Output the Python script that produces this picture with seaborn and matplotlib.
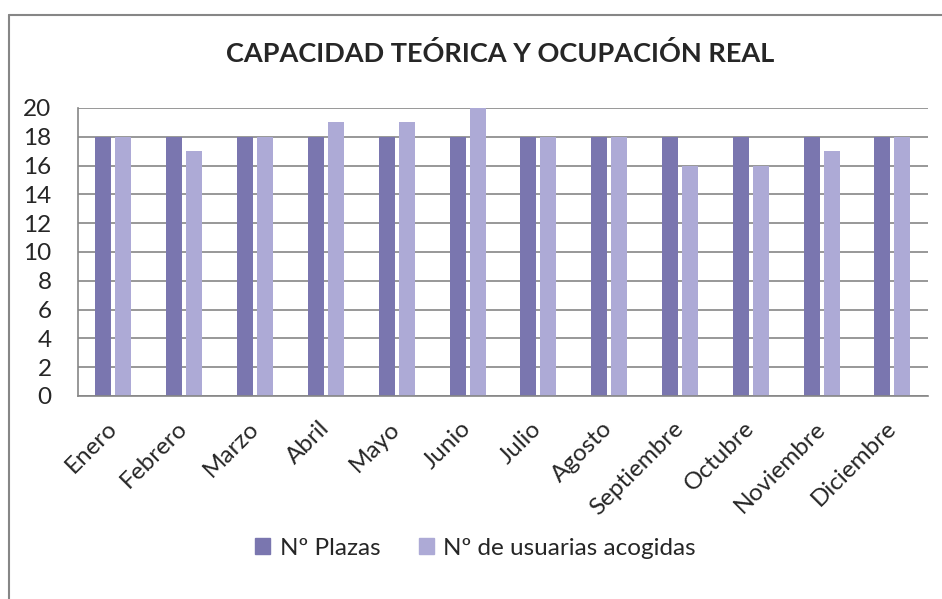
import numpy as np
import pandas as pd
import matplotlib
matplotlib.use("Agg")
import matplotlib.pyplot as plt
from matplotlib.lines import Line2D
import seaborn as sns

# data
meses = ['Enero', 'Febrero', 'Marzo', 'Abril', 'Mayo', 'Junio', 'Julio',
         'Agosto', 'Septiembre', 'Octubre', 'Noviembre', 'Diciembre']
plazas = [18, 18, 18, 18, 18, 18, 18, 18, 18, 18, 18, 18]
usuarias = [18, 17, 18, 19, 19, 20, 18, 18, 16, 16, 17, 18]
series = ['Nº Plazas', 'Nº de usuarias acogidas']
colores = ['#7A76AF', '#ADAAD6']

df = pd.DataFrame({
    'mes': meses * 2,
    'valor': plazas + usuarias,
    'serie': [series[0]] * len(meses) + [series[1]] * len(meses),
})

sns.set_style('white')
plt.rcParams['font.family'] = ['Lato', 'DejaVu Sans']

fig = plt.figure(figsize=(9.42, 5.99), dpi=100)
ax = fig.add_axes([0.0828, 0.3389, 0.9022, 0.4808])

sns.barplot(data=df, x='mes', y='valor', hue='serie', order=meses,
            hue_order=series, palette=colores, width=0.565, gap=0.2,
            saturation=1, linewidth=0, ax=ax, legend=True)

ax.set_ylim(0, 20)
ax.set_yticks(range(0, 21, 2))
ax.set_xlim(-0.5, len(meses) - 0.5)
ax.set_xlabel('')
ax.set_ylabel('')
ax.yaxis.grid(True, color='#868686', linewidth=1.2)
ax.set_axisbelow(True)
for s in ['top', 'right']:
    ax.spines[s].set_visible(False)
for s in ['left', 'bottom']:
    ax.spines[s].set_color('#868686')
    ax.spines[s].set_linewidth(1.2)

ax.tick_params(axis='y', length=0, pad=19, labelsize=17.5)
ax.tick_params(axis='x', length=0, pad=21, labelsize=17.5)
for lab in ax.get_xticklabels():
    lab.set_rotation(45)
    lab.set_ha('right')
    lab.set_va('center')
    lab.set_rotation_mode('anchor')

fig.text(0.531, 0.91, 'CAPACIDAD TEÓRICA Y OCUPACIÓN REAL',
         ha='center', va='center', fontsize=19.5, fontweight='bold')

ax.legend_.remove()
handles = [plt.Rectangle((0, 0), 1, 1, color=c) for c in colores]
fig.legend(handles, series, loc='center', bbox_to_anchor=(0.505, 0.085),
           ncol=2, frameon=False, fontsize=17.5, handlelength=0.6,
           handleheight=0.6, handletextpad=0.4, columnspacing=1.6)

# outer chart frame (left and top edges visible)
fig.add_artist(Line2D([9 / 942, 9 / 942], [0, 1 - 15 / 599],
                      transform=fig.transFigure, color='#868686', lw=1.5))
fig.add_artist(Line2D([9 / 942, 1], [1 - 15 / 599, 1 - 15 / 599],
                      transform=fig.transFigure, color='#868686', lw=1.5))

fig.savefig('out.png', dpi=100)
